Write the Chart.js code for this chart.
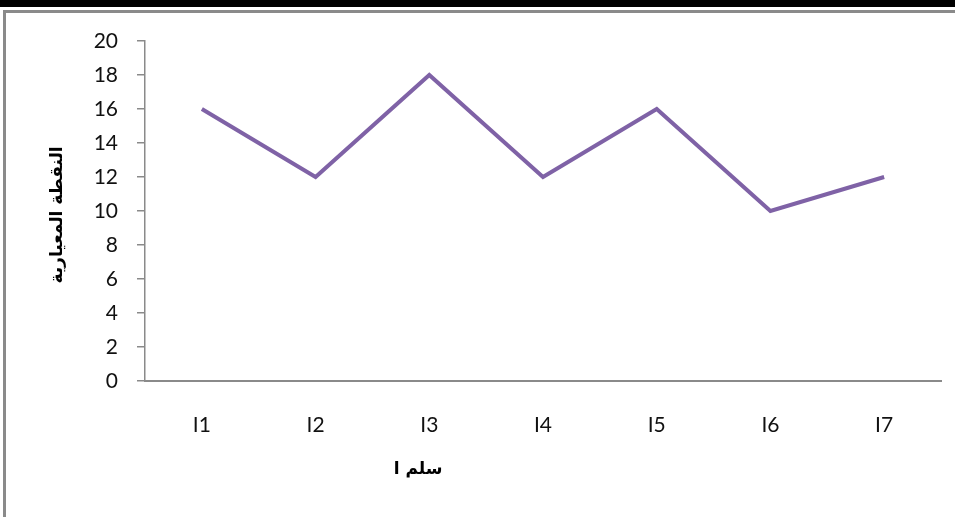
<!DOCTYPE html>
<html>
<head>
<meta charset="utf-8">
<script src="https://cdn.jsdelivr.net/npm/chart.js@4/dist/chart.umd.min.js"></script>
<style>
  html, body { margin: 0; padding: 0; background: #ffffff; }
  #wrap { position: relative; width: 955px; height: 517px; overflow: hidden; }
  #topBar { position: absolute; left: 0; top: 0; width: 955px; height: 7px; background: #000; }
  #topRule { position: absolute; left: 3px; top: 10px; width: 952px; height: 3px; background: #8a8a8a; }
  #leftRule { position: absolute; left: 3px; top: 10px; width: 3px; height: 507px; background: #8a8a8a; }
  canvas { position: absolute; left: 0; top: 0; }
</style>
</head>
<body>
<div id="wrap">
  <div id="topBar"></div>
  <div id="topRule"></div>
  <div id="leftRule"></div>
  <canvas id="c" width="955" height="517"></canvas>
</div>
<script>
// Categories and standard scores
const categories = ['I1', 'I2', 'I3', 'I4', 'I5', 'I6', 'I7'];
const scores = [16, 12, 18, 12, 16, 10, 12];
const yTicks = [0, 2, 4, 6, 8, 10, 12, 14, 16, 18, 20];
const xTitle = 'سلم ا';
const yTitle = 'النقطة المعيارية';

const tickFont = { family: 'Lato, "Open Sans", sans-serif', size: 21 };
const arabicFont = 'bold 17px "DejaVu Sans", sans-serif';

// Axis titles drawn relative to the plot area
const axisTitles = {
  id: 'axisTitles',
  afterDraw(chart) {
    const { ctx, chartArea } = chart;
    ctx.save();
    ctx.fillStyle = '#000';
    ctx.font = arabicFont;
    ctx.textAlign = 'center';
    ctx.textBaseline = 'middle';
    ctx.fillText(xTitle, chartArea.left + 273, chartArea.bottom + 89);
    ctx.translate(chartArea.left - 87, (chartArea.top + chartArea.bottom) / 2 + 4);
    ctx.rotate(-Math.PI / 2);
    ctx.fillText(yTitle, 0, 0);
    ctx.restore();
  }
};

new Chart(document.getElementById('c'), {
  type: 'line',
  data: {
    labels: categories,
    datasets: [{
      data: scores,
      borderColor: '#7f62a6',
      borderWidth: 4,
      pointRadius: 0,
      tension: 0,
      fill: false
    }]
  },
  options: {
    responsive: false,
    animation: false,
    events: [],
    layout: { padding: { left: 0, right: 14, top: 41, bottom: 0 } },
    plugins: { legend: { display: false }, tooltip: { enabled: false } },
    scales: {
      x: {
        offset: true,
        afterFit(scale) { scale.height = 136; },
        grid: { display: false },
        border: { display: true, color: '#8a8a8a', width: 2 },
        ticks: { color: '#111', font: tickFont, padding: 24, maxRotation: 0, autoSkip: false }
      },
      y: {
        min: 0,
        max: 20,
        afterBuildTicks(scale) { scale.ticks = yTicks.map(v => ({ value: v })); },
        afterFit(scale) { scale.width = 145; },
        grid: { drawOnChartArea: false, drawTicks: true, tickLength: 8, color: '#8a8a8a', lineWidth: 1.5 },
        border: { display: true, color: '#8a8a8a', width: 1.5 },
        ticks: { color: '#111', font: tickFont, padding: 19, autoSkip: false }
      }
    }
  },
  plugins: [axisTitles]
});
</script>
</body>
</html>
